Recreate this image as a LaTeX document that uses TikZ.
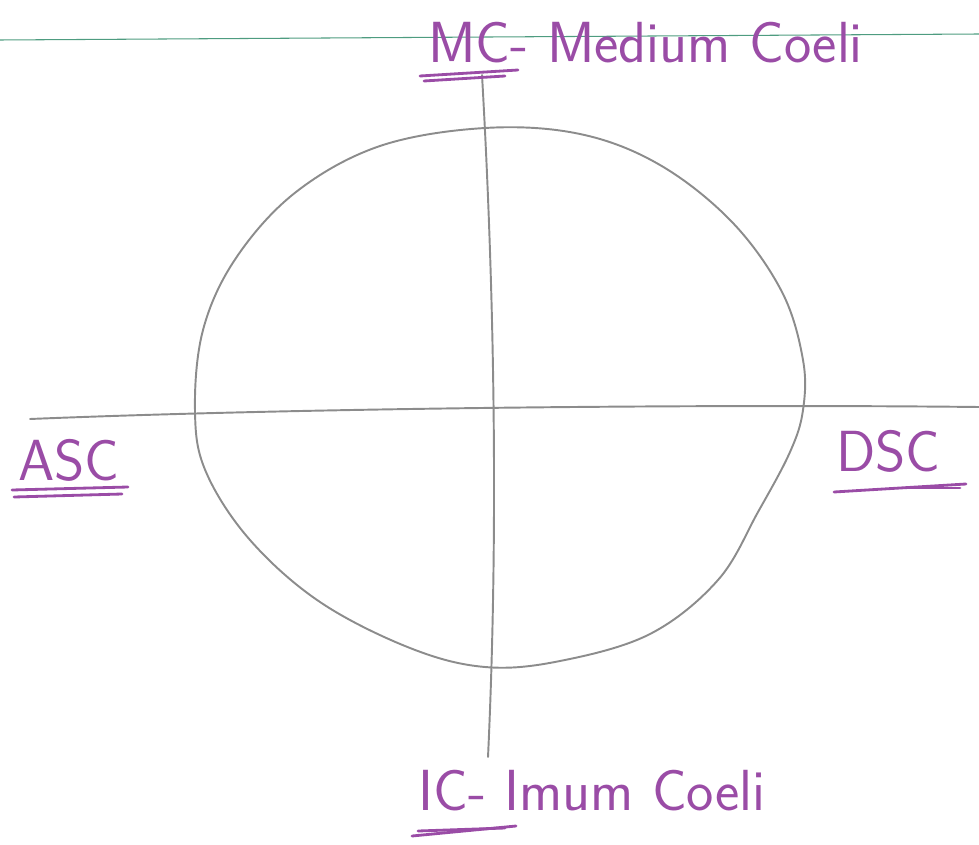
\documentclass[tikz,border=0pt]{standalone}
\usepackage{tikz}
\usetikzlibrary{positioning}
\definecolor{pencilgrey}{HTML}{8C8C8C}
\definecolor{inkpurple}{HTML}{9A4CA6}
\definecolor{ruleline}{HTML}{4E9C80}

\begin{document}
\begin{tikzpicture}[
    x=0.02cm, y=-0.02cm,
    every node/.style={font=\sffamily\fontsize{33}{35}\selectfont},
    pencil/.style={draw=pencilgrey, line width=1.1pt, line cap=round},
    label/.style={inkpurple, inner sep=0pt, anchor=west},
    underline/.style={draw=inkpurple, line width=1.6pt, line cap=round},
]
\useasboundingbox (0,0) rectangle (979,844);

% --- ruled line of the paper ---
\draw[ruleline, line width=0.6pt] (0,40) -- (979,34);

% --- chart circle, hand drawn ---
\draw[pencil] plot[smooth cycle, tension=0.6] coordinates {
  (195,412) (203,330) (236,258) (296,192) (380,146) (485,128)
  (580,134) (660,165) (732,222) (782,292) (803,360) (803,410)
  (790,452) (758,512) (718,580) (650,634) (560,661) (485,667)
  (410,648) (320,602) (250,540) (206,472)};

% --- meridian and horizon axes ---
\coordinate (mctop) at (482,75);
\coordinate (icbot) at (488,757);
\coordinate (ascend) at (30,419);
\coordinate (dscend) at (979,407);
\draw[pencil] (mctop) .. controls (492,250) and (500,500) .. (icbot);
\draw[pencil] (ascend) .. controls (300,408) and (700,404) .. (dscend);

% --- labels ---
\node[label] (mc)  at (428,43)  {MC- Medium Coeli};
\node[label] (asc) at (18,460)  {ASC};
\node[label] (dsc) at (836,451) {DSC};
\node[label] (ic)  at (418,791) {IC- Imum Coeli};

% --- double underlines ---
\draw[underline] (420,76) -- (518,70);
\draw[underline] (424,81) -- (505,76);
\draw[underline] (12,490) -- (128,487);
\draw[underline] (14,497) -- (122,494);
\draw[underline] (834,492) -- (966,484);
\draw[underline] (890,488) -- (960,488);
\draw[underline] (412,836) -- (516,826);
\draw[underline] (418,831) -- (505,828);

\end{tikzpicture}
\end{document}
